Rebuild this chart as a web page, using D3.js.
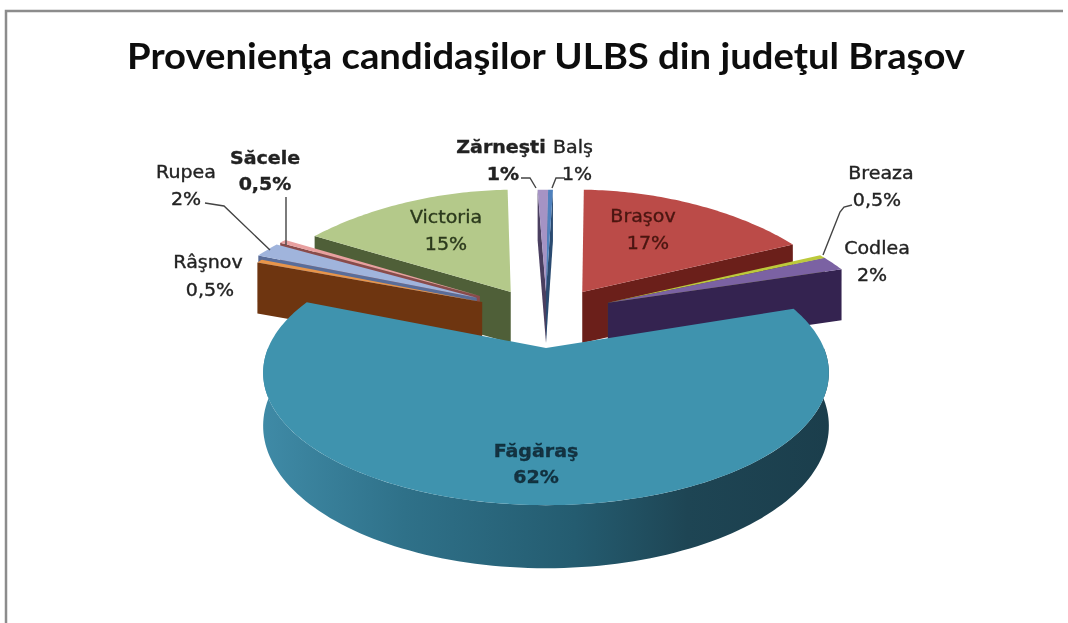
<!DOCTYPE html>
<html><head><meta charset="utf-8">
<script src="https://cdn.jsdelivr.net/npm/d3@7/dist/d3.min.js"></script>
<style>html,body{margin:0;padding:0;background:#fff;overflow:hidden}svg{display:block}</style>
</head><body><div id="c"></div>
<script>
// ---- data ----
const categories = ["Braşov","Breaza","Codlea","Făgăraş","Râşnov","Rupea","Săcele","Victoria","Zărneşti","Balş"];
const labels = ["17%","0,5%","2%","62%","0,5%","2%","0,5%","15%","1%","1%"];
const values = [16.8,0.5,1.9,61.6,0.5,1.9,0.5,15.2,0.75,0.35];
const title = "Provenienţa candidaşilor ULBS din judeţul Braşov";

// ---- styles ----
const topColors  = ["#bb4b48","#bcc93c","#7b62a3","#3f93ae","#e8954a","#a0b4dc","#e8a0a0","#b4c98a","#a593c4","#4f81bd"];
const sideColors = ["#6b1f1a","#5c6218","#342350","url(#rim)","#6e3510","#5a6d99","#8a4b4b","#4f5f38","#4a3f60","#2a4a70"];
const textColors = ["#4a1512","#222","#222","#12303f","#222","#222","#222","#2c3a1c","#222","#222"];
const bold       = [false,false,false,true,false,false,true,false,true,false];
// plan-space explosion of each slice
const explode = [[37,0],[62,28],[62,28],[0,127],[-64,26],[-70,15],[-67,10],[-36,0],[0,0],[0,0]];
// label centres: [name x, name y, value x, value y]
const labelPos = [[643,216,648,243],[881,173,877,200],[877,248,872,275],[536,451,536,477],[208,262,210,290],
                  [186,172,186,199],[265,158,265,184],[446,217,446,244],[501,147,503,174],[573,147,577,174]];
// leader lines, page coordinates
const leaders = [[[852,205],[844,207],[840,212],[823,255]],[[205,203],[224,206],[270,250]],[[286,197],[286,245]],
                 [[521,178],[530,178],[536,188]],[[565,178],[556,178],[552,188]]];

// ---- geometry ----
const W=1068,H=623, cx=546, y0=304, tilt=0.43, tiltBack=0.385, D=1490, Rfront=260, Rback=266, depth=48, planCY=-31, rot=1.8*Math.PI/180;
const project=(X,Y,Z)=>{const s=D/(D-Y);
  return [cx+X*s, y0+(Y<0?tiltBack*Y:tilt*Y*s)+Z*Math.max(s,1.06)];};

const svg=d3.select("#c").append("svg").attr("width",W).attr("height",H);
const defs=svg.append("defs");
const grad=defs.append("linearGradient").attr("id","rim");
[[0,"#3f8aa6"],[.25,"#2f7189"],[.55,"#245c70"],[.75,"#1e4554"],[1,"#1b3e4c"]].forEach(d=>grad.append("stop").attr("offset",d[0]).attr("stop-color",d[1]));
defs.append("filter").attr("id","soft").append("feGaussianBlur").attr("stdDeviation",0.45);

svg.append("rect").attr("width",W).attr("height",H).attr("fill","#fff");
svg.append("path").attr("d",d3.line()([[6,H],[6,11],[1063,11]])).attr("fill","none").attr("stroke","#8c8c8c").attr("stroke-width",2.5);

svg.append("text").attr("x",546).attr("y",69).attr("text-anchor","middle")
  .attr("font-family","Lato").attr("font-weight",700).attr("font-size",37).attr("fill","#111")
  .attr("textLength",838).attr("lengthAdjust","spacingAndGlyphs").attr("filter","url(#soft)").text(title);

const pie=d3.pie().sort(null).startAngle(rot).endAngle(rot+2*Math.PI);
const arcs=pie(values);
const poly=d3.line().curve(d3.curveLinearClosed);
const seq=(a,b,n)=>d3.range(n+1).map(d3.scaleLinear().domain([0,n]).range([a,b]));

const order=d3.range(values.length).sort((i,j)=>{
  const m=k=>Math.cos((arcs[k].startAngle+arcs[k].endAngle)/2);
  const y=k=>explode[k][1];
  return (y(i)-y(j))||(m(j)-m(i));
});

const g=svg.append("g");
order.forEach(i=>{
  const a=arcs[i],[ox,oy]=explode[i];
  const R=a.endAngle-a.startAngle>Math.PI?Rfront:Rback;
  const pt=(th,r,z)=>project(ox+r*Math.sin(th),planCY+oy-r*Math.cos(th),z);
  const face=(th)=>[pt(th,0,0),pt(th,R,0),pt(th,R,depth),pt(th,0,depth)];
  if(Math.sin(a.startAngle)<0) g.append("path").attr("d",poly(face(a.startAngle))).attr("fill",sideColors[i]);
  if(Math.sin(a.endAngle)>0) g.append("path").attr("d",poly(face(a.endAngle))).attr("fill",sideColors[i]);
  const lo=Math.max(a.startAngle,Math.PI/2),hi=Math.min(a.endAngle,3*Math.PI/2);
  if(hi>lo){
    const th=seq(lo,hi,120);
    g.append("path").attr("d",poly(th.map(t=>pt(t,R,0)).concat(th.slice().reverse().map(t=>pt(t,R,depth))))).attr("fill",sideColors[i]);
  }
  const th=seq(a.startAngle,a.endAngle,Math.max(4,Math.round((a.endAngle-a.startAngle)*60)));
  g.append("path").attr("d",poly([pt(0,0,0)].concat(th.map(t=>pt(t,R,0))))).attr("fill",topColors[i]);
});

leaders.forEach(l=>svg.append("path").attr("d",d3.line()(l)).attr("fill","none").attr("stroke","#444").attr("stroke-width",1.4));

const txt=(x,y,s,i)=>svg.append("text").attr("transform",`translate(${x},${y}) scale(1.12,1)`)
  .attr("text-anchor","middle").attr("dominant-baseline","central")
  .attr("font-family","'DejaVu Sans'").attr("font-size",17).attr("font-weight",bold[i]?700:400)
  .attr("fill",textColors[i]).attr("stroke",textColors[i]).attr("stroke-width",0.35).attr("filter","url(#soft)").text(s);
categories.forEach((c,i)=>{const p=labelPos[i];txt(p[0],p[1],c,i);txt(p[2],p[3],labels[i],i);});
</script></body></html>
